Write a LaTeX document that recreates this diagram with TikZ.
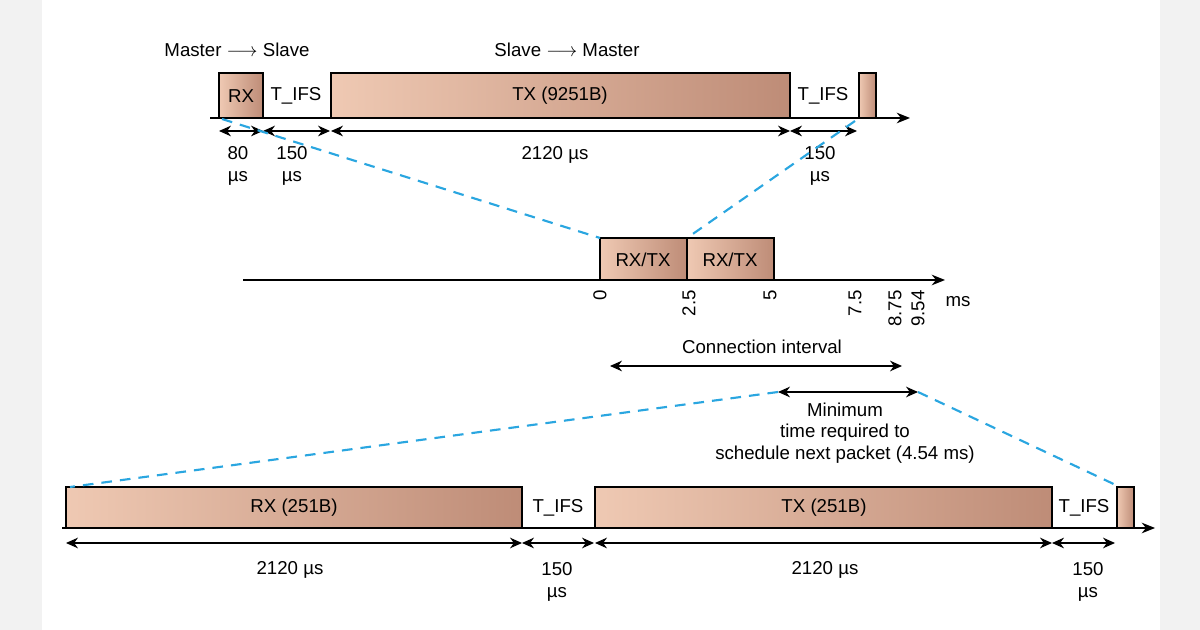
\documentclass[tikz,border=0pt]{standalone}
\usepackage{fontspec}
\setmainfont{Liberation Sans}
\usetikzlibrary{arrows.meta}
\definecolor{pkL}{HTML}{EFC9B3}
\definecolor{pkM}{HTML}{F6E4D6}
\definecolor{pkD}{HTML}{BE8C77}
\definecolor{blu}{HTML}{2AA6E0}
\definecolor{edge}{HTML}{F2F2F2}
\begin{document}
\begin{tikzpicture}[x=0.75pt,y=-0.75pt,
  pkt/.style={draw=black,line width=1.1pt,left color=pkL,middle color=pkM,right color=pkD,shading angle=90},
  axis/.style={line width=1.1pt,-{Stealth[length=10pt,width=8pt]}},
  dim/.style={line width=1pt,{Stealth[length=9pt,width=8pt]}-{Stealth[length=9pt,width=8pt]}},
  zoomline/.style={blu,line width=1.6pt,dash pattern=on 8pt off 6pt},
  lbl/.style={font=\fontsize{14}{16}\selectfont,inner sep=0pt},
  tk/.style={lbl,rotate=90,anchor=east}]
\useasboundingbox (0,0) rectangle (1200,630);
\fill[edge] (0,0) rectangle (42,630);
\fill[edge] (1160,0) rectangle (1200,630);
% ---- top row
\node[lbl] (ms) at (237,50) {Master \textbf{$\longrightarrow$} Slave};
\node[lbl] (sm) at (567,50) {Slave \textbf{$\longrightarrow$} Master};
\draw[axis] (210,118) coordinate (ta0) -- (910,118) coordinate (ta1);
\draw[pkt] (219,73) rectangle (263,118);
\node[lbl] (rxl) at (241,96) {RX};
\node[lbl] (tifs1) at (296,96) {T\_IFS};
\draw[pkt] (331,73) rectangle (790,118);
\node[lbl] (txl) at (560,96) {TX (9251B)};
\node[lbl] (tifs2) at (823,96) {T\_IFS};
\draw[pkt] (859,73) rectangle (876,118);
\coordinate (a0) at (219,131); \coordinate (a1) at (263,131);
\coordinate (a2) at (330,131); \coordinate (a3) at (790,131);
\coordinate (a4) at (857,131); \coordinate (a2b) at (331,131);
\draw[dim] (a0) -- (a1);
\draw[dim] (a1) -- (a2);
\draw[dim] (a2b) -- (a3);
\draw[dim] (a3) -- (a4);
\node[lbl,align=center] (d80) at (238,166) {80\\µs};
\node[lbl,align=center] (d150a) at (292,166) {150\\µs};
\node[lbl] (d2120) at (555,155) {2120 µs};
\node[lbl,align=center] (d150b) at (820,166) {150\\µs};
% ---- middle
\draw[axis] (243,280) coordinate (ma0) -- (945,280) coordinate (ma1);
\draw[pkt] (600,238) rectangle (687,280);
\draw[pkt] (687,238) rectangle (774,280);
\node[lbl] (rt1) at (643,260) {RX/TX};
\node[lbl] (rt2) at (730,260) {RX/TX};
\node[tk] (t0) at (600,290) {0};
\node[tk] (t25) at (689,290) {2.5};
\node[tk] (t5) at (770,290) {5};
\node[tk] (t75) at (855,290) {7.5};
\node[tk] (t875) at (895,290) {8.75};
\node[tk] (t954) at (918,290) {9.54};
\node[lbl] (unit) at (958,302) {ms};
\node[lbl] (ci) at (762,347) {Connection interval};
\coordinate (c0) at (610,366); \coordinate (c1) at (902,366);
\draw[dim] (c0) -- (c1);
\coordinate (m0) at (778,392); \coordinate (m1) at (918,392);
\draw[dim] (m0) -- (m1);
\node[lbl,align=center] (mt) at (845,433) {Minimum\\time required to\\schedule next packet (4.54 ms)};
% ---- bottom
\draw[axis] (62,528) coordinate (ba0) -- (1155,528) coordinate (ba1);
\draw[pkt] (66,487) rectangle (522,528);
\node[lbl] (rxb) at (294,508) {RX (251B)};
\node[lbl] (tifs3) at (558,508) {T\_IFS};
\draw[pkt] (595,487) rectangle (1052,528);
\node[lbl] (txb) at (824,508) {TX (251B)};
\node[lbl] (tifs4) at (1084,508) {T\_IFS};
\draw[pkt] (1117,487) rectangle (1134,528);
\coordinate (b0) at (66,543); \coordinate (b1) at (522,543);
\coordinate (b2) at (594,543); \coordinate (b2b) at (595,543);
\coordinate (b3) at (1052,543); \coordinate (b4) at (1115,543);
\draw[dim] (b0) -- (b1);
\draw[dim] (b1) -- (b2);
\draw[dim] (b2b) -- (b3);
\draw[dim] (b3) -- (b4);
\node[lbl] (e1) at (290,570) {2120 µs};
\node[lbl,align=center] (e2) at (557,582) {150\\µs};
\node[lbl] (e3) at (825,570) {2120 µs};
\node[lbl,align=center] (e4) at (1088,582) {150\\µs};
% ---- zoom lines
\draw[zoomline] (222,119) -- (600,238);
\draw[zoomline] (855,121) -- (687,238);
\draw[zoomline] (m0) -- (70,487);
\draw[zoomline] (m1) -- (1120,487);
\end{tikzpicture}
\end{document}
